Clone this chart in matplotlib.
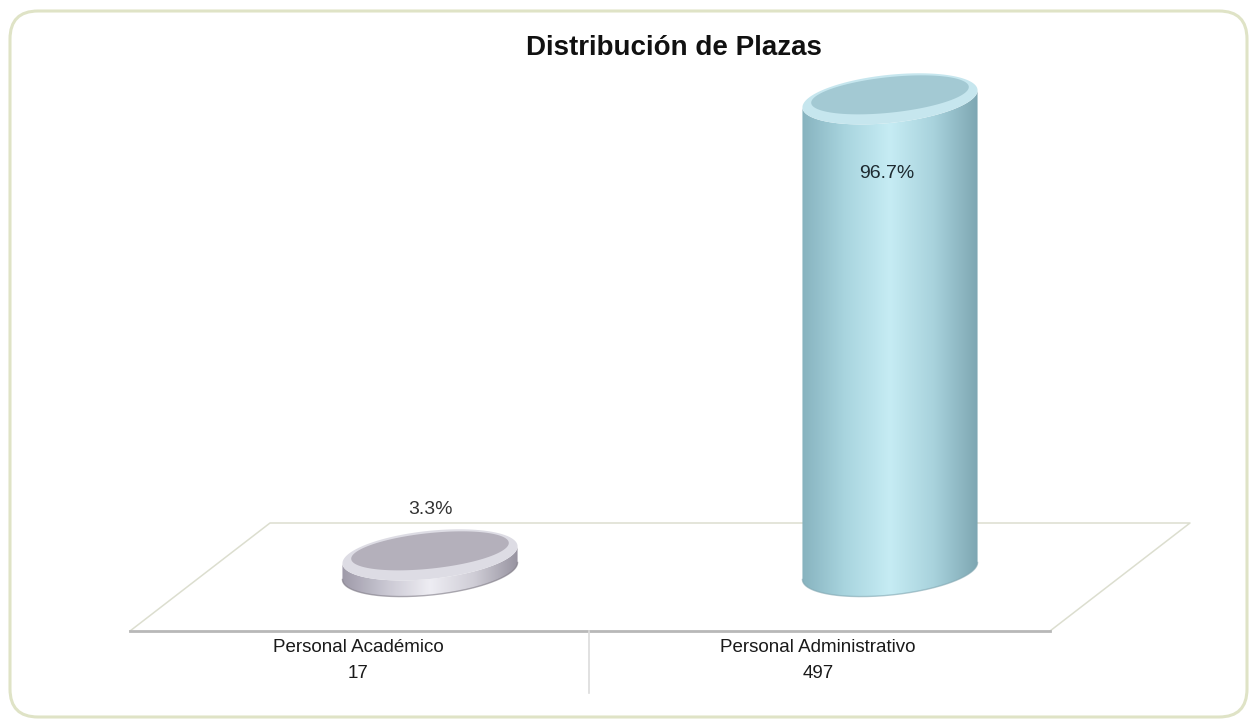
import numpy as np
import matplotlib
matplotlib.use("Agg")
import matplotlib.pyplot as plt
from matplotlib.colors import LinearSegmentedColormap
from matplotlib.patches import Polygon, FancyBboxPatch

plt.rcParams['font.family'] = ['Liberation Sans', 'DejaVu Sans']

title = "Distribución de Plazas"
categories = ["Personal Académico", "Personal Administrativo"]
plazas = [17, 497]

W, H = 1257, 728
CAT_PX = 460          # pixels between category centres
X0_PX = 430           # pixel x of first category centre
Y0_PX = 571           # pixel y of the zero baseline
VAL_PX = 0.95         # pixels per unit of value

body_colors = [
    ["#9d99a8", "#c9c7d2", "#eeedf3", "#cfcdd6", "#96929f"],
    ["#86b2be", "#a9d5df", "#c6ecf4", "#a8d2dc", "#7ca5b1"],
]
cap_colors = ["#b4b0bb", "#a3c9d3"]
rim_colors = ["#dddce4", "#c6e6ee"]
edge_colors = ["#7b7782", "#7fa5b0"]

fig = plt.figure(figsize=(W / 100, H / 100), dpi=100)

# background layer in pixel space: frame and floor
bg = fig.add_axes([0, 0, 1, 1])
bg.set_xlim(0, W)
bg.set_ylim(H, 0)
bg.axis('off')
bg.add_patch(FancyBboxPatch((10, 11), W - 20, H - 22,
                            boxstyle="round,pad=0,rounding_size=28",
                            fc="white", ec="#dfe3c6", lw=2.2))
floor = [(270, 523), (1190, 523), (1050, 631), (130, 631)]
bg.plot([floor[3][0], floor[0][0], floor[1][0], floor[2][0]],
        [floor[3][1], floor[0][1], floor[1][1], floor[2][1]],
        color="#dcdecf", lw=1.1)
bg.plot([floor[3][0], floor[2][0]], [floor[3][1], floor[2][1]],
        color="#b8b8b8", lw=2.0)
bg.plot([589, 589], [631, 693], color="#dcdcdc", lw=1.2)

# data layer: x in category units, y in value units
ax = fig.add_axes([0, 0, 1, 1])
ax.patch.set_alpha(0)
ax.set_xlim(-X0_PX / CAT_PX, (W - X0_PX) / CAT_PX)
ax.set_ylim((Y0_PX - H) / VAL_PX, Y0_PX / VAL_PX)
ax.axis('off')

RX, RY = 88, 24                 # ellipse semi-axes in pixels
ROT = np.deg2rad(6)             # ellipse tilt, right side up


def ellipse(cx, cy, t, sx=1.0, sy=1.0):
    a, b = RX * sx, RY * sy
    dx = a * np.cos(t) * np.cos(ROT) - b * np.sin(t) * np.sin(ROT)
    dy = a * np.cos(t) * np.sin(ROT) + b * np.sin(t) * np.cos(ROT)
    return cx + dx / CAT_PX, cy + dy / VAL_PX


# parameter values where the ellipse reaches its left and right extremes
t_right = np.arctan2(-RY * np.sin(ROT), RX * np.cos(ROT))
t_left = t_right + np.pi
half_w = RX / CAT_PX + 0.002


def cylinder(i, v, z):
    cx = i
    t_low = np.linspace(t_left, t_right + 2 * np.pi, 160)
    bx, by = ellipse(cx, 0, t_low)
    tx, ty = ellipse(cx, v, t_low[::-1])
    outline = np.column_stack([np.r_[bx, tx], np.r_[by, ty]])
    body = Polygon(outline, closed=True, fc="none", ec="none")
    ax.add_patch(body)
    cmap = LinearSegmentedColormap.from_list("b%d" % i, body_colors[i])
    grad = np.linspace(0, 1, 256)[None, :]
    pad = 2 * RY / VAL_PX
    im = ax.imshow(grad, cmap=cmap, aspect='auto',
                   extent=[cx - half_w, cx + half_w, -pad, v + pad],
                   zorder=z, interpolation='bilinear')
    im.set_clip_path(body)
    ax.plot(bx, by, color=edge_colors[i], lw=1.0, alpha=0.6, zorder=z + 0.1)

    t = np.linspace(0, 2 * np.pi, 240)
    rx, ry = ellipse(cx, v, t)
    ax.fill(rx, ry, fc=rim_colors[i], ec="none", zorder=z + 0.2)
    ix, iy = ellipse(cx, v + 4 / VAL_PX, t, 0.9, 0.74)
    ax.fill(ix, iy, fc=cap_colors[i], ec="none", zorder=z + 0.3)


total = sum(plazas)
for i, v in enumerate(plazas):
    cylinder(i, v, 3 + i)
    share = v / total * 100
    if share > 50:
        ax.annotate(f"{share:.1f}%", (i, v), xytext=(-2, -54),
                    textcoords='offset points', ha='center', va='center',
                    fontsize=14, color="#1e2a30", zorder=10)
    else:
        ax.annotate(f"{share:.1f}%", (i, v), xytext=(0, 33),
                    textcoords='offset points', ha='center', va='center',
                    fontsize=14, color="#333333", zorder=10)

# category labels sit on the front edge of the floor
for i, (name, v) in enumerate(zip(categories, plazas)):
    px = X0_PX + i * CAT_PX - 72
    bg.text(px, 648, name, ha='center', va='center', fontsize=13.5, color="#1a1a1a")
    bg.text(px, 673, str(v), ha='center', va='center', fontsize=13.5, color="#1a1a1a")

fig.text(674 / W, 1 - 48 / H, title, ha='center', va='center',
         fontsize=20, fontweight='bold', color="#111111")

fig.savefig("out.png", dpi=100)
